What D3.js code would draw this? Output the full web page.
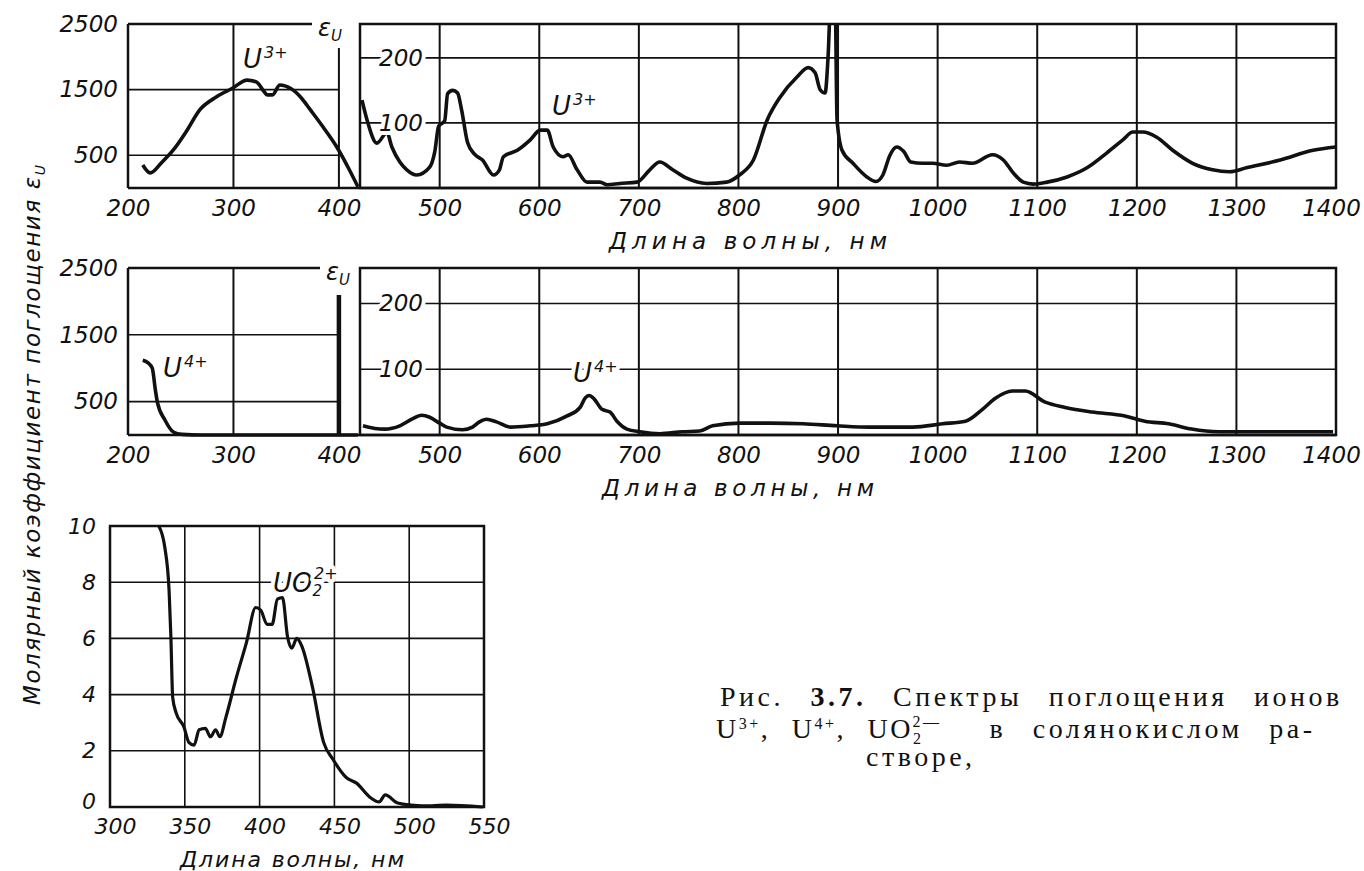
<!DOCTYPE html>
<html>
<head>
<meta charset="utf-8">
<script src="https://cdn.jsdelivr.net/npm/d3@7"></script>
<style>
body { margin: 0; background: #fff; overflow: hidden; }
svg { display: block; }
text { font-family: "DejaVu Sans", sans-serif; font-style: italic; fill: #111; }
.tick text { font-size: 23px; }
.cap { font-family: "Liberation Serif", serif; font-style: normal; font-size: 28px; }
.halo { paint-order: stroke; stroke: #fff; stroke-width: 8px; stroke-linejoin: round; }
</style>
</head>
<body>
<svg id="chart" width="1364" height="871"></svg>
<script>
// wavelength ticks, nm
var leftNmTicks = [200, 300, 400];
var rightNmTicks = [500, 600, 700, 800, 900, 1000, 1100, 1200, 1300, 1400];
var epsTicks = [500, 1500, 2500];
var epsSmallTicks = [100, 200];
var uoNmTicks = [300, 350, 400, 450, 500, 550];
var uoEpsTicks = [0, 2, 4, 6, 8, 10];

// U3+ : [nm, eps]
var u3Left = [[214, 350], [221, 230], [232, 390], [243, 580], [256, 880], [268, 1190], [284, 1390],
  [299, 1520], [313, 1645], [322, 1615], [329, 1470], [332, 1420], [337, 1420], [344, 1570],
  [354, 1520], [364, 1380], [373, 1190], [385, 930], [398, 625], [410, 275], [418, 20]];
var u3Right = [[422, 135], [427, 105], [437, 69], [447, 85], [452, 63], [460, 40], [467, 28], [477, 20],
  [490, 32], [495, 55], [499, 95], [505, 103], [508, 145], [513, 150], [518, 146], [522, 120],
  [528, 70], [535, 52], [543, 43], [554, 20], [560, 28], [564, 48], [578, 58], [591, 74], [601, 89],
  [608, 89], [614, 63], [624, 48], [629, 51], [638, 28], [648, 9], [661, 9], [668, 5], [681, 7],
  [698, 9], [711, 28], [721, 40], [734, 28], [748, 15], [768, 7], [788, 9], [801, 20], [815, 43],
  [829, 105], [842, 140], [859, 171], [870, 185], [877, 177], [882, 151], [887, 146], [890, 202],
  [893, 300], [897, 300], [899, 105], [904, 58], [915, 38], [929, 17], [938, 10], [945, 20],
  [952, 50], [959, 63], [966, 56], [973, 40], [985, 38], [995, 38], [1009, 35], [1022, 40],
  [1035, 38], [1055, 51], [1066, 43], [1076, 23], [1086, 9], [1096, 6], [1110, 9], [1130, 17],
  [1150, 31], [1170, 54], [1186, 74], [1196, 86], [1206, 86], [1220, 78], [1236, 58], [1256, 38],
  [1276, 28], [1293, 25], [1310, 31], [1344, 43], [1377, 58], [1400, 63]];

// U4+ : [nm, eps]
var u4Left = [[214, 1120], [219, 1080], [223, 1000], [226, 670], [228, 480], [235, 225], [243, 45],
  [251, 10], [270, 0], [418, 0]];
var u4Right = [[423, 14], [435, 10], [445, 9], [460, 14], [472, 24], [482, 30], [490, 27], [500, 18],
  [507, 12], [523, 8], [533, 12], [540, 20], [547, 24], [557, 20], [571, 12], [591, 14], [608, 17],
  [628, 29], [641, 42], [646, 56], [650, 60], [655, 55], [663, 39], [671, 35], [678, 21], [688, 9],
  [701, 5], [721, 2], [744, 5], [761, 6], [774, 14], [801, 18], [832, 18], [865, 17], [899, 14],
  [932, 12], [975, 12], [1005, 17], [1028, 21], [1045, 39], [1058, 56], [1075, 67], [1088, 67],
  [1108, 50], [1128, 42], [1155, 35], [1188, 29], [1208, 21], [1232, 17], [1255, 9], [1282, 5],
  [1322, 5], [1397, 5]];

// UO2 2+ : [nm, eps]
var uo2 = [[332.6, 10], [336.6, 9.25], [339.5, 7.7], [340.7, 6.05], [341.9, 3.9], [344.2, 3.35],
  [349.4, 2.85], [352.7, 2.3], [356.2, 2.2], [359.6, 2.75], [363.7, 2.8], [367.2, 2.5],
  [370.6, 2.75], [373.4, 2.5], [377.5, 3.2], [384.4, 4.6], [391.2, 5.85], [397.4, 7.1],
  [400.8, 7.0], [405, 6.5], [408.4, 6.5], [411.9, 7.4], [415.3, 7.45], [418.7, 6.05],
  [421.5, 5.65], [424.9, 6.0], [428.4, 5.7], [435.2, 4.3], [442.8, 2.3], [449, 1.7],
  [457.9, 1.05], [464.8, 0.85], [473.7, 0.35], [479.9, 0.18], [484, 0.43], [492.3, 0.14],
  [501.2, 0.07], [515, 0.04], [524.6, 0.07], [549.3, 0]];

var svg = d3.select("#chart");
var ink = "#111";
var fmt = d3.format("d");

function line(g, x1, y1, x2, y2, w) {
  g.append("line").attr("x1", x1).attr("y1", y1).attr("x2", x2).attr("y2", y2)
    .attr("stroke", ink).attr("stroke-width", w);
}

function ionLabel(g, x, y, base, sub, sup) {
  var t = g.append("text").attr("class", "halo").attr("x", x).attr("y", y).style("font-size", "26px");
  t.append("tspan").text(base);
  if (sub) t.append("tspan").attr("dy", 4).style("font-size", "15px").text(sub);
  t.append("tspan").attr("dy", sub ? -17 : -10).attr("dx", sub ? -8 : 2).style("font-size", "16px").text(sup);
}

function epsLabel(g, x, y) {
  var t = g.append("text").attr("x", x).attr("y", y).style("font-size", "24px");
  t.append("tspan").text("ε");
  t.append("tspan").attr("dy", 5).style("font-size", "15px").text("U");
}

function cleanAxis(a) {
  a.select(".domain").remove();
  a.attr("font-family", null).attr("font-size", null);
}

// broken-axis panel: 200-420 nm on a 0-2500 scale, 420-1400 nm on a small scale
function brokenPanel(o) {
  var g = svg.append("g");
  var xl = d3.scaleLinear().domain([200, 420]).range([128, 360]);
  var xr = d3.scaleLinear().domain([420, 1400]).range([360, 1336]);
  var yl = d3.scaleLinear().domain([0, 2500]).range([o.bottom, o.top]);
  var yr = d3.scaleLinear().domain([0, o.rightMax]).range([o.bottom, o.top]);

  // left part grid
  epsTicks.slice(0, -1).forEach(function (v) { line(g, xl(200), yl(v), xl(400), yl(v), 1.6); });
  line(g, xl(300), o.top, xl(300), o.bottom, 2);
  line(g, xl(400), o.markTop, xl(400), o.bottom, o.markWidth);
  line(g, xl(200), o.top, xl(200), o.bottom, 2.5);
  line(g, xl(200), o.top, o.gapX, o.top, 2.5);
  epsLabel(g, o.gapX + 6, o.top + 12);

  // right part grid
  epsSmallTicks.forEach(function (v) { line(g, xr(420), yr(v), xr(1400), yr(v), 1.6); });
  rightNmTicks.slice(0, -1).forEach(function (v) { line(g, xr(v), o.top, xr(v), o.bottom, 2); });
  g.append("rect").attr("x", xr(420)).attr("y", o.top).attr("width", xr(1400) - xr(420))
    .attr("height", o.bottom - o.top).attr("fill", "none").attr("stroke", ink).attr("stroke-width", 2.5);
  line(g, xl(200), o.bottom, xr(1400), o.bottom, 2.5);

  // curves
  var clipId = "clip" + o.top;
  svg.append("clipPath").attr("id", clipId).append("rect")
    .attr("x", xr(420)).attr("y", o.top).attr("width", xr(1400) - xr(420)).attr("height", o.bottom - o.top);
  g.append("path").datum(o.left)
    .attr("d", d3.line().x(function (d) { return xl(d[0]); }).y(function (d) { return yl(d[1]); }).curve(d3.curveMonotoneX))
    .attr("fill", "none").attr("stroke", ink).attr("stroke-width", 3.6).attr("stroke-linejoin", "round");
  g.append("path").datum(o.right).attr("clip-path", "url(#" + clipId + ")")
    .attr("d", d3.line().x(function (d) { return xr(d[0]); }).y(function (d) { return yr(d[1]); }).curve(d3.curveMonotoneX))
    .attr("fill", "none").attr("stroke", ink).attr("stroke-width", 3.6).attr("stroke-linejoin", "round");

  // axes labels
  var ax = g.append("g").attr("transform", "translate(0," + o.bottom + ")")
    .call(d3.axisBottom(xl).tickValues(leftNmTicks).tickFormat(fmt).tickSize(0).tickPadding(12));
  var ax2 = g.append("g").attr("transform", "translate(0," + o.bottom + ")")
    .call(d3.axisBottom(xr).tickValues(rightNmTicks).tickFormat(fmt).tickSize(0).tickPadding(12));
  var ay = g.append("g").attr("transform", "translate(" + xl(200) + ",0)")
    .call(d3.axisLeft(yl).tickValues(epsTicks).tickFormat(fmt).tickSize(0).tickPadding(10));
  var ay2 = g.append("g").attr("transform", "translate(" + (xr(420) + 19) + ",0)")
    .call(d3.axisRight(yr).tickValues(epsSmallTicks).tickFormat(fmt).tickSize(0).tickPadding(0));
  [ax, ax2, ay, ay2].forEach(cleanAxis);
  ay2.selectAll("text").attr("class", "halo");
  ax2.selectAll(".tick:last-of-type text").attr("dx", -5);

  g.append("text").attr("x", o.titleX).attr("y", o.bottom + 61).attr("text-anchor", "middle")
    .attr("textLength", o.titleW).style("font-size", "23px").text("Длина волны, нм");

  o.labels.forEach(function (l) { ionLabel(g, l[0], l[1], "U", null, l[2]); });
}

brokenPanel({ top: 24, bottom: 188, rightMax: 252, gapX: 312, markTop: 48, markWidth: 2,
  left: u3Left, right: u3Right, titleX: 748, titleW: 278,
  labels: [[243, 68, "3+"], [552, 115, "3+"]] });
brokenPanel({ top: 268, bottom: 435, rightMax: 254, gapX: 320, markTop: 295, markWidth: 4.5,
  left: u4Left, right: u4Right, titleX: 738, titleW: 272,
  labels: [[163, 377, "4+"], [573, 382, "4+"]] });

// UO2 2+ panel
(function () {
  var g = svg.append("g");
  var x = d3.scaleLinear().domain([300, 550]).range([110, 484]);
  var y = d3.scaleLinear().domain([0, 10]).range([807, 526]);
  uoEpsTicks.slice(1, -1).forEach(function (v) { line(g, x(300), y(v), x(550), y(v), 1.6); });
  uoNmTicks.slice(1, -1).forEach(function (v) { line(g, x(v), y(10), x(v), y(0), 1.6); });
  g.append("rect").attr("x", x(300)).attr("y", y(10)).attr("width", x(550) - x(300))
    .attr("height", y(0) - y(10)).attr("fill", "none").attr("stroke", ink).attr("stroke-width", 2.5);
  g.append("path").datum(uo2)
    .attr("d", d3.line().x(function (d) { return x(d[0]); }).y(function (d) { return y(d[1]); }).curve(d3.curveMonotoneX))
    .attr("fill", "none").attr("stroke", ink).attr("stroke-width", 3.2).attr("stroke-linejoin", "round");
  var ax = g.append("g").attr("transform", "translate(0,807)")
    .call(d3.axisBottom(x).tickValues(uoNmTicks).tickFormat(fmt).tickSize(0).tickPadding(11));
  var ay = g.append("g").attr("transform", "translate(110,0)")
    .call(d3.axisLeft(y).tickValues(uoEpsTicks).tickFormat(fmt).tickSize(0).tickPadding(14));
  [ax, ay].forEach(cleanAxis);
  ax.selectAll("text").style("font-size", "22px").attr("dx", 5);
  ay.selectAll("text").style("font-size", "22px");
  ay.selectAll(".tick:first-of-type text").attr("dy", "0.05em");
  g.append("text").attr("x", 292).attr("y", 867).attr("text-anchor", "middle")
    .attr("textLength", 224).style("font-size", "22px").text("Длина волны, нм");
  ionLabel(g, 273, 592, "UO", "2", "2+");
})();

// y title
var yt = svg.append("text").attr("transform", "translate(40,435) rotate(-90)")
  .attr("text-anchor", "middle").attr("textLength", 540).style("font-size", "23px");
yt.append("tspan").text("Молярный коэффициент поглощения ");
yt.append("tspan").text("ε");
yt.append("tspan").attr("dy", 5).style("font-size", "14px").text("U");

// caption
var cap = svg.append("g");
cap.append("text").attr("class", "cap").attr("x", 720).attr("y", 706)
  .attr("letter-spacing", 3.5).attr("word-spacing", 16)
  .html("Рис. <tspan font-weight='bold'>3.7.</tspan> Спектры поглощения ионов");
var c2 = cap.append("text").attr("class", "cap").attr("x", 716).attr("y", 738)
  .attr("letter-spacing", 2.5).attr("word-spacing", 12);
c2.append("tspan").text("U");
c2.append("tspan").attr("dy", -9).style("font-size", "16px").text("3+");
c2.append("tspan").attr("dy", 9).text(", U");
c2.append("tspan").attr("dy", -9).style("font-size", "16px").text("4+");
c2.append("tspan").attr("dy", 9).text(", UO");
c2.append("tspan").attr("dy", 6).style("font-size", "16px").text("2");
c2.append("tspan").attr("dy", -17).attr("dx", -11).style("font-size", "16px").text("2—");
c2.append("tspan").attr("dy", 11).attr("dx", 48).attr("letter-spacing", 3.5).attr("word-spacing", 16)
  .text("в солянокислом ра-");
cap.append("text").attr("class", "cap").attr("x", 866).attr("y", 766)
  .attr("letter-spacing", 3.5).text("створе,");
</script>
</body>
</html>
